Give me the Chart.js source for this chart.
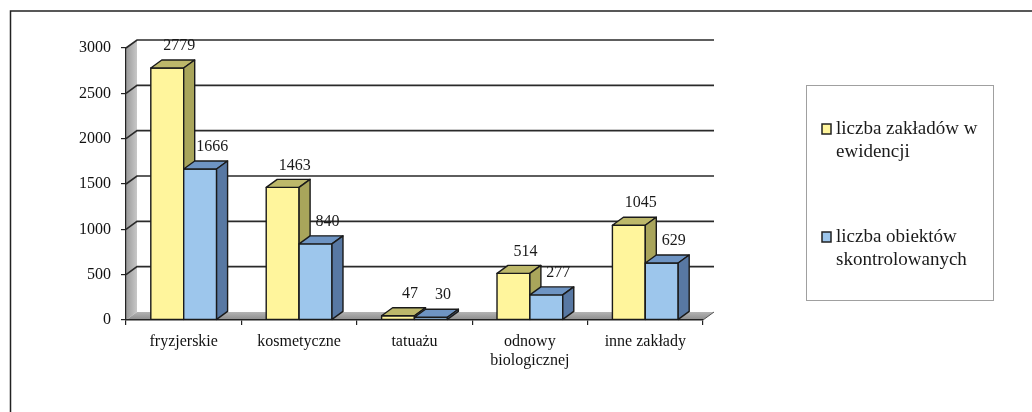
<!DOCTYPE html>
<html>
<head>
<meta charset="utf-8">
<script src="https://cdn.jsdelivr.net/npm/chart.js@4"></script>
<style>
  html, body { margin: 0; padding: 0; background: #fff; }
  #wrap { width: 1032px; height: 412px; }
</style>
</head>
<body>
<div id="wrap"><canvas id="barChart" width="1032" height="412"></canvas></div>
<script>
const categories = ['fryzjerskie', 'kosmetyczne', 'tatuażu', ['odnowy', 'biologicznej'], 'inne zakłady'];
const seriesNames = [['liczba zakładów w', 'ewidencji'], ['liczba obiektów', 'skontrolowanych']];
const registered = [2779, 1463, 47, 514, 1045];
const inspected = [1666, 840, 30, 277, 629];
const yTicks = [0, 500, 1000, 1500, 2000, 2500, 3000];

const FONT = "'Liberation Serif', 'Times New Roman', serif";
const DX = 11, DY = -8;  // depth of the 3D effect

const faces = [
  { front: '#FFF59C', top: '#BDB86A', side: '#A9A55B' },
  { front: '#9DC6EC', top: '#6E94C3', side: '#5878A3' }
];

// walls, floor and gridlines behind the bars
const backdrop = {
  id: 'backdrop',
  beforeDraw(chart) {
    const ctx = chart.ctx;
    const a = chart.chartArea;
    const y = chart.scales.y;
    ctx.save();
    // left wall
    let g = ctx.createLinearGradient(a.left, 0, a.left + DX, 0);
    g.addColorStop(0, '#9a9a9a');
    g.addColorStop(1, '#c8c8c8');
    ctx.fillStyle = g;
    ctx.beginPath();
    ctx.moveTo(a.left, a.top);
    ctx.lineTo(a.left + DX, a.top + DY);
    ctx.lineTo(a.left + DX, a.bottom + DY);
    ctx.lineTo(a.left, a.bottom);
    ctx.closePath();
    ctx.fill();
    // floor
    g = ctx.createLinearGradient(0, a.bottom + DY, 0, a.bottom);
    g.addColorStop(0, '#b4b4b4');
    g.addColorStop(1, '#8c8c8c');
    ctx.fillStyle = g;
    ctx.beginPath();
    ctx.moveTo(a.left, a.bottom);
    ctx.lineTo(a.left + DX, a.bottom + DY);
    ctx.lineTo(a.right + DX, a.bottom + DY);
    ctx.lineTo(a.right, a.bottom);
    ctx.closePath();
    ctx.fill();
    ctx.strokeStyle = '#555';
    ctx.lineWidth = 1;
    ctx.beginPath();
    ctx.moveTo(a.right, a.bottom);
    ctx.lineTo(a.right + DX, a.bottom + DY);
    ctx.stroke();
    // gridlines
    ctx.strokeStyle = '#2a2a2a';
    ctx.lineWidth = 1.6;
    yTicks.forEach(v => {
      if (v === 0) return;
      const py = y.getPixelForValue(v);
      ctx.beginPath();
      ctx.moveTo(a.left, py);
      ctx.lineTo(a.left + DX, py + DY);
      ctx.lineTo(a.right + DX, py + DY);
      ctx.stroke();
    });
    ctx.restore();
  }
};

// bars with top and side faces, plus value labels
const bars3d = {
  id: 'bars3d',
  afterDatasetsDraw(chart) {
    const ctx = chart.ctx;
    ctx.save();
    ctx.lineWidth = 1.4;
    ctx.lineJoin = 'round';
    ctx.strokeStyle = '#1a1a1a';
    chart.data.datasets.forEach((ds, di) => {
      const c = faces[di];
      chart.getDatasetMeta(di).data.forEach(bar => {
        const l = bar.x - bar.width / 2, r = bar.x + bar.width / 2;
        const t = bar.y, b = bar.base;
        ctx.fillStyle = c.front;
        ctx.beginPath();
        ctx.rect(l, t, r - l, b - t);
        ctx.fill();
        ctx.stroke();
        ctx.fillStyle = c.top;
        ctx.beginPath();
        ctx.moveTo(l, t);
        ctx.lineTo(l + DX, t + DY);
        ctx.lineTo(r + DX, t + DY);
        ctx.lineTo(r, t);
        ctx.closePath();
        ctx.fill();
        ctx.stroke();
        ctx.fillStyle = c.side;
        ctx.beginPath();
        ctx.moveTo(r, t);
        ctx.lineTo(r + DX, t + DY);
        ctx.lineTo(r + DX, b + DY);
        ctx.lineTo(r, b);
        ctx.closePath();
        ctx.fill();
        ctx.stroke();
      });
    });
    ctx.fillStyle = '#1a1a1a';
    ctx.font = '16px ' + FONT;
    ctx.textAlign = 'center';
    ctx.textBaseline = 'middle';
    chart.data.datasets.forEach((ds, di) => {
      chart.getDatasetMeta(di).data.forEach((bar, i) => {
        ctx.fillText(String(ds.data[i]), bar.x + 12, bar.y - 22);
      });
    });
    ctx.restore();
  }
};

// legend box and outer frame
const frame = {
  id: 'frame',
  afterDraw(chart) {
    const ctx = chart.ctx;
    ctx.save();
    ctx.strokeStyle = '#222';
    ctx.lineWidth = 1.5;
    ctx.beginPath();
    ctx.moveTo(10.5, 412);
    ctx.lineTo(10.5, 11);
    ctx.lineTo(1032, 11);
    ctx.stroke();

    ctx.strokeStyle = '#a0a0a0';
    ctx.lineWidth = 1;
    ctx.strokeRect(806.5, 85.5, 187, 215);

    const items = [{ y: 129 }, { y: 237 }];
    ctx.font = '19px ' + FONT;
    ctx.textBaseline = 'middle';
    ctx.textAlign = 'left';
    items.forEach((it, i) => {
      ctx.fillStyle = faces[i].front;
      ctx.fillRect(822, it.y - 5, 9, 10);
      ctx.strokeStyle = '#222';
      ctx.lineWidth = 1.5;
      ctx.strokeRect(822, it.y - 5, 9, 10);
      ctx.fillStyle = '#1a1a1a';
      seriesNames[i].forEach((line, k) => {
        ctx.fillText(line, 836, it.y + k * 23);
      });
    });
    ctx.restore();
  }
};

new Chart(document.getElementById('barChart'), {
  type: 'bar',
  data: {
    labels: categories,
    datasets: [
      { label: seriesNames[0].join(' '), data: registered, backgroundColor: 'rgba(0,0,0,0)' },
      { label: seriesNames[1].join(' '), data: inspected, backgroundColor: 'rgba(0,0,0,0)' }
    ]
  },
  options: {
    responsive: false,
    animation: false,
    events: [],
    categoryPercentage: 0.57,
    barPercentage: 1.0,
    layout: { padding: { left: 76, right: 329, top: 48, bottom: 32 } },
    plugins: { legend: { display: false }, tooltip: { enabled: false } },
    scales: {
      y: {
        min: 0,
        max: 3000,
        afterFit(scale) { scale.width = 50; },
        afterBuildTicks(scale) { scale.ticks = yTicks.map(v => ({ value: v })); },
        grid: { drawOnChartArea: false, tickLength: 5, color: '#222', lineWidth: 1.2 },
        border: { display: true, color: '#222', width: 1.2 },
        ticks: {
          padding: 10,
          color: '#111',
          font: { family: FONT, size: 16 },
          callback: v => String(v)
        }
      },
      x: {
        afterFit(scale) { scale.height = 60; },
        grid: { drawOnChartArea: false, tickLength: 5, color: '#222', lineWidth: 1.2 },
        border: { display: true, color: '#222', width: 1.4 },
        ticks: { padding: 8, color: '#111', maxRotation: 0, font: { family: FONT, size: 16, lineHeight: 1.15 } }
      }
    }
  },
  plugins: [backdrop, bars3d, frame]
});
</script>
</body>
</html>
